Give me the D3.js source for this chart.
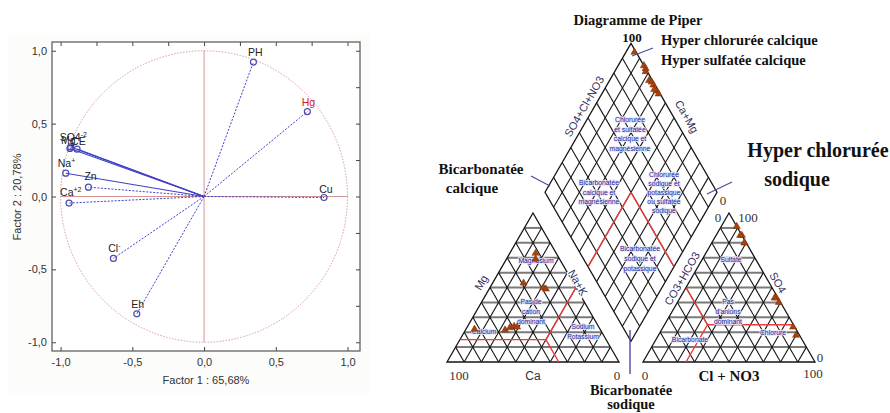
<!DOCTYPE html>
<meta charset="utf-8">
<style>
  body { margin: 0; background: #fff; }
  svg text { font-family: "Liberation Sans", Arial, sans-serif; }
  .serif { font-family: "Liberation Serif", "Times New Roman", serif !important; }
</style>
<script src="https://d3js.org/d3.v7.min.js"></script>
<div id="chart"></div>
<script>
  // --- PCA correlation circle: variables and their loadings on factor 1 / factor 2
  var variables = ["PH", "Hg", "Cu", "SO4", "Mg", "CE", "Na", "Zn", "Ca", "Cl", "Eh"];
  var factor1 = [0.344, 0.72, 0.836, -0.93, -0.935, -0.885, -0.964, -0.806, -0.941, -0.632, -0.469];
  var factor2 = [0.922, 0.583, -0.007, 0.34, 0.33, 0.325, 0.16, 0.064, -0.045, -0.425, -0.805];
  var pcaTicks = [-1, -0.5, 0, 0.5, 1];

  // --- Piper diagram samples (percent of meq)
  var sampleMg = [73, 69, 53, 50, 49, 22, 21.5, 23, 24, 23.5];
  var sampleNaK = [15, 17, 18, 31, 33, 5, 23, 25, 27, 29];
  var sampleSO4 = [91, 85, 80, 43, 40, 23.5, 18, 80, 85, 43];
  var sampleCl = [9, 15, 19, 56, 59, 75.5, 80, 19, 14, 55];
  var gridSteps = d3.range(10, 100, 10);

  var width = 890, height = 413;
  var svg = d3.select("#chart").append("svg")
    .attr("width", width)
    .attr("height", height);

  // ================= left: correlation circle =================
  var box = { left: 52, top: 42, right: 360, bottom: 351 };
  var x = d3.scaleLinear().domain([-1.06, 1.087]).range([box.left, box.right]);
  var y = d3.scaleLinear().domain([-1.06, 1.06]).range([box.bottom, box.top]);
  var fmt = function (d) { return d3.format(".1f")(d).replace(".", ",").replace("\u2212", "-"); };

  svg.append("rect")
    .attr("x", 8).attr("y", 33).attr("width", 362).attr("height", 360)
    .attr("fill", "#fcfcfa");
  svg.append("rect")
    .attr("x", box.left).attr("y", box.top)
    .attr("width", box.right - box.left).attr("height", box.bottom - box.top)
    .attr("fill", "#fff");

  var pca = svg.append("g");

  pca.append("ellipse")
    .attr("cx", x(0)).attr("cy", y(0))
    .attr("rx", x(1) - x(0)).attr("ry", y(0) - y(1))
    .attr("fill", "none")
    .attr("stroke", "#d99a9a")
    .attr("stroke-width", 1)
    .attr("stroke-dasharray", "1.5,1.5");

  pca.append("line")
    .attr("x1", x(0)).attr("x2", x(0)).attr("y1", y(1)).attr("y2", y(-1))
    .attr("stroke", "#c97a7a").attr("stroke-width", 0.8);
  pca.append("line")
    .attr("x1", x(-1)).attr("x2", x(1)).attr("y1", y(0)).attr("y2", y(0))
    .attr("stroke", "#c97a7a").attr("stroke-width", 0.8);

  var solid = ["SO4", "Mg", "CE", "Na"];
  var pts = variables.map(function (v, i) { return { name: v, f1: factor1[i], f2: factor2[i] }; });

  pca.selectAll(".vec")
    .data(pts)
    .enter()
    .append("line")
    .attr("x1", x(0)).attr("y1", y(0))
    .attr("x2", function (d) { return x(d.f1); })
    .attr("y2", function (d) { return y(d.f2); })
    .attr("stroke", "#4040c8")
    .attr("stroke-width", function (d) { return solid.indexOf(d.name) >= 0 ? 1.1 : 1; })
    .attr("stroke-dasharray", function (d) { return solid.indexOf(d.name) >= 0 ? null : "2,1.5"; });

  pca.selectAll(".pt")
    .data(pts)
    .enter()
    .append("circle")
    .attr("cx", function (d) { return x(d.f1); })
    .attr("cy", function (d) { return y(d.f2); })
    .attr("r", 3)
    .attr("fill", "none")
    .attr("stroke", "#4a4ab0")
    .attr("stroke-width", 1.2);

  // label placement (offset from the point, anchor, superscript)
  var labelInfo = {
    PH: { dx: 2, dy: -6, anchor: "middle" },
    Hg: { dx: 1, dy: -6, anchor: "middle", color: "#cc2020" },
    Cu: { dx: 2, dy: -5, anchor: "middle" },
    SO4: { dx: -11, dy: -6, anchor: "start", sup: "-2" },
    Mg: { dx: -9, dy: -4, anchor: "start" },
    CE: { dx: -6, dy: -4, anchor: "start" },
    Na: { dx: -8, dy: -6, anchor: "start", sup: "+" },
    Zn: { dx: -4, dy: -7, anchor: "start" },
    Ca: { dx: -9, dy: -7, anchor: "start", sup: "+2" },
    Cl: { dx: 1, dy: -6, anchor: "middle", sup: "-" },
    Eh: { dx: 1, dy: -6, anchor: "middle" }
  };

  pts.forEach(function (d) {
    var info = labelInfo[d.name];
    var t = pca.append("text")
      .attr("x", x(d.f1) + info.dx)
      .attr("y", y(d.f2) + info.dy)
      .attr("text-anchor", info.anchor)
      .attr("font-size", 10.5)
      .attr("fill", info.color || "#222");
    t.append("tspan").text(d.name);
    if (info.sup) {
      t.append("tspan").attr("font-size", 7).attr("dy", -4).text(info.sup);
    }
  });

  // axes
  svg.append("g")
    .attr("transform", "translate(" + box.left + ",0)")
    .call(d3.axisLeft(y).tickValues(pcaTicks).tickFormat(fmt).tickSizeInner(-4).tickSizeOuter(0).tickPadding(5))
    .call(function (g) { g.select(".domain").remove(); })
    .selectAll("text").attr("font-size", 11).attr("fill", "#333");
  svg.append("g")
    .attr("transform", "translate(0," + box.bottom + ")")
    .call(d3.axisBottom(x).tickValues(pcaTicks).tickFormat(fmt).tickSizeInner(-4).tickSizeOuter(0).tickPadding(7))
    .call(function (g) { g.select(".domain").remove(); })
    .selectAll("text").attr("font-size", 11).attr("fill", "#333");
  svg.append("g")
    .attr("transform", "translate(" + box.right + ",0)")
    .call(d3.axisRight(y).tickValues(d3.range(-1, 1.01, 0.25)).tickFormat("").tickSizeInner(-4).tickSizeOuter(0))
    .call(function (g) { g.select(".domain").remove(); });
  svg.append("g")
    .attr("transform", "translate(0," + box.top + ")")
    .call(d3.axisTop(x).tickValues(d3.range(-1, 1.01, 0.25)).tickFormat("").tickSizeInner(-4).tickSizeOuter(0))
    .call(function (g) { g.select(".domain").remove(); });
  svg.selectAll(".tick line").attr("stroke", "#444");

  svg.append("rect")
    .attr("x", box.left).attr("y", box.top)
    .attr("width", box.right - box.left).attr("height", box.bottom - box.top)
    .attr("fill", "none").attr("stroke", "#555").attr("stroke-width", 1.2);

  svg.append("text")
    .attr("x", 206).attr("y", 384)
    .attr("text-anchor", "middle").attr("font-size", 11).attr("fill", "#333")
    .text("Factor 1 : 65,68%");
  svg.append("text")
    .attr("transform", "translate(21,197) rotate(-90)")
    .attr("text-anchor", "middle").attr("font-size", 11).attr("fill", "#333")
    .text("Factor 2 : 20,78%");

  // ================= right: Piper diagram =================
  var side = 172, gap = 24, ox = 447, oy = 362;
  var tri = Math.sqrt(3) / 2;
  var pct = d3.scaleLinear().domain([0, 100]).range([0, side]);

  // cation triangle: Ca bottom-left, Na+K bottom-right, Mg apex
  function cat(mg, nak) {
    return [ox + pct(nak) + pct(mg) / 2, oy - pct(mg) * tri];
  }
  // anion triangle: HCO3 bottom-left, Cl bottom-right, SO4 apex
  var ax0 = ox + side + gap;
  function an(so4, cl) {
    return [ax0 + pct(cl) + pct(so4) / 2, oy - pct(so4) * tri];
  }
  // diamond
  var bx = ox + side + gap / 2, by = oy - gap * tri;
  function dia(nak, sc) {
    return [bx - pct(100 - nak) / 2 + pct(sc) / 2, by - pct(100 - nak) * tri - pct(sc) * tri];
  }

  var piper = svg.append("g");
  var lineGen = d3.line();

  function seg(g, a, b, color, w) {
    g.append("path").attr("d", lineGen([a, b]))
      .attr("fill", "none").attr("stroke", color).attr("stroke-width", w);
  }

  function triangleGrid(f) {
    var g = piper.append("g");
    gridSteps.forEach(function (p) {
      seg(g, f(p, 0), f(p, 100 - p), "#7a7a7a", 2);
    });
    gridSteps.forEach(function (p) {
      seg(g, f(0, p), f(100 - p, p), "#151515", 1.1);
      seg(g, f(0, 100 - p), f(100 - p, 0), "#151515", 1.1);
    });
    g.append("path")
      .attr("d", lineGen([f(0, 0), f(0, 100), f(100, 0)]) + "Z")
      .attr("fill", "none").attr("stroke", "#151515").attr("stroke-width", 1.3);
  }
  triangleGrid(cat);
  triangleGrid(an);

  var dg = piper.append("g");
  gridSteps.forEach(function (p) {
    seg(dg, dia(p, 0), dia(p, 100), "#151515", 1.1);
    seg(dg, dia(0, p), dia(100, p), "#151515", 1.1);
  });
  dg.append("path")
    .attr("d", lineGen([dia(0, 0), dia(0, 100), dia(100, 100), dia(100, 0)]) + "Z")
    .attr("fill", "none").attr("stroke", "#151515").attr("stroke-width", 1.3);

  // red classification lines
  var red = piper.append("g");
  var rc = "#ee3a3a";
  seg(red, dia(50, 50), dia(50, 0), rc, 1.4);
  seg(red, dia(50, 50), dia(100, 50), rc, 1.4);
  red.append("path").attr("d", lineGen([cat(50, 50), cat(15, 50), cat(0, 65)]))
    .attr("fill", "none").attr("stroke", rc).attr("stroke-width", 1.4);
  seg(red, cat(15, 0), cat(15, 50), rc, 1.4);
  red.append("path").attr("d", lineGen([an(50, 0), an(25, 25), an(0, 25)]))
    .attr("fill", "none").attr("stroke", rc).attr("stroke-width", 1.4);
  seg(red, an(25, 25), an(25, 75), rc, 1.4);

  // region names
  var regionColor = "#1c1c96";
  function block(lines, cx, cy, step) {
    var t = piper.append("text")
      .attr("text-anchor", "middle")
      .attr("font-size", 6.8)
      .attr("fill", regionColor)
      .attr("stroke", "rgba(232,232,250,0.85)")
      .attr("stroke-width", 2)
      .attr("paint-order", "stroke");
    lines.forEach(function (l, i) {
      t.append("tspan").attr("x", cx).attr("y", cy + i * step).text(l);
    });
  }
  block(["Chlorurée", "et sulfatée", "calcique et", "magnésienne"], 630, 122, 9.5);
  block(["Bicarbonatée", "calcique et", "magnésienne"], 599, 185, 9.5);
  block(["Chlorurée", "sodique et", "potassique", "ou sulfatée", "sodique"], 664, 177, 9);
  block(["Bicarbonatée", "sodique et", "potassique"], 640, 251, 10);
  block(["Magnésium"], 536, 263, 9);
  block(["Pas de", "cation", "dominant"], 531, 304, 10);
  block(["Calcium"], 484, 334, 9);
  block(["Sodium", "Potassium"], 583, 329, 9.5);
  block(["Sulfate"], 731, 262, 9);
  block(["Pas", "d'anions", "dominant"], 728, 304, 10);
  block(["Bicarbonate"], 690, 342, 9);
  block(["Chlorure"], 773, 335, 9);

  // sample markers
  var marker = d3.symbol().type(d3.symbolTriangle).size(22);
  var samples = sampleMg.map(function (m, i) {
    return { mg: m, nak: sampleNaK[i], so4: sampleSO4[i], cl: sampleCl[i] };
  });
  function drawSamples(pos) {
    piper.append("g").selectAll("path")
      .data(samples)
      .enter()
      .append("path")
      .attr("d", marker)
      .attr("transform", function (d) { var p = pos(d); return "translate(" + p[0] + "," + p[1] + ")"; })
      .attr("fill", "#a8420e")
      .attr("stroke", "#7a2c06")
      .attr("stroke-width", 0.5);
  }
  drawSamples(function (d) { return cat(d.mg, d.nak); });
  drawSamples(function (d) { return an(d.so4, d.cl); });
  drawSamples(function (d) { return dia(d.nak, d.so4 + d.cl); });

  // rotated axis names
  var axisColor = "#2e2e5e";
  function rotLabel(txt, cx, cy, ang, size) {
    piper.append("text")
      .attr("transform", "translate(" + cx + "," + cy + ") rotate(" + ang + ")")
      .attr("text-anchor", "middle")
      .attr("dominant-baseline", "middle")
      .attr("font-size", size)
      .attr("fill", axisColor)
      .attr("stroke", "#fff").attr("stroke-width", 2.5).attr("paint-order", "stroke")
      .text(txt);
  }
  rotLabel("SO4+Cl+NO3", 585, 107, -60, 11);
  rotLabel("Ca+Mg", 686, 117, 60, 11);
  rotLabel("Mg", 482, 283, -60, 11);
  rotLabel("Na+K", 577, 283, 60, 11);
  rotLabel("CO3+HCO3", 683, 279, -60, 11);
  rotLabel("SO4", 777, 283, 60, 11);

  // pointer lines
  var pc = "#4b4ba0";
  seg(piper, [632, 56], [653, 48], pc, 1.2);
  seg(piper, [531, 176], [550, 186], pc, 1.2);
  seg(piper, [707, 194], [732, 182], pc, 1.2);
  seg(piper, [630, 330], [630, 374], pc, 1.4);

  // serif annotations
  function serif(txt, tx, ty, size, bold, anchor, color) {
    piper.append("text")
      .attr("class", "serif")
      .attr("x", tx).attr("y", ty)
      .attr("text-anchor", anchor || "middle")
      .attr("font-size", size)
      .attr("font-weight", bold ? "bold" : "normal")
      .attr("fill", color || "#111")
      .text(txt);
  }
  serif("Diagramme de Piper", 638, 25, 14.5, true);
  serif("100", 632, 42, 13, true);
  serif("Hyper chlorurée calcique", 661, 45, 14.5, true, "start");
  serif("Hyper sulfatée calcique", 661, 65, 14.5, true, "start");
  serif("Bicarbonatée", 481, 174, 15, true);
  serif("calcique", 472, 193, 15, true);
  serif("Hyper chlorurée", 818, 157, 20, true);
  serif("sodique", 797, 186, 20, true);
  serif("0", 723, 205, 13, false, "middle", "#333");
  serif("0", 718, 222, 13, false, "middle", "#333");
  serif("100", 748, 222, 13, false, "middle", "#333");
  serif("0", 820, 362, 13, false, "middle", "#333");
  serif("100", 459, 380, 13, false, "middle", "#333");
  serif("0", 617, 380, 13, false, "middle", "#333");
  serif("0", 645, 380, 13, false, "middle", "#333");
  serif("Cl + NO3", 729, 381, 15, true);
  serif("100", 813, 378, 13, false, "middle", "#333");
  serif("Bicarbonatée", 631, 395, 14.5, true);
  serif("sodique", 631, 409, 14.5, true);
  piper.append("text")
    .attr("x", 533).attr("y", 380)
    .attr("text-anchor", "middle").attr("font-size", 12).attr("fill", "#333")
    .text("Ca");
</script>
